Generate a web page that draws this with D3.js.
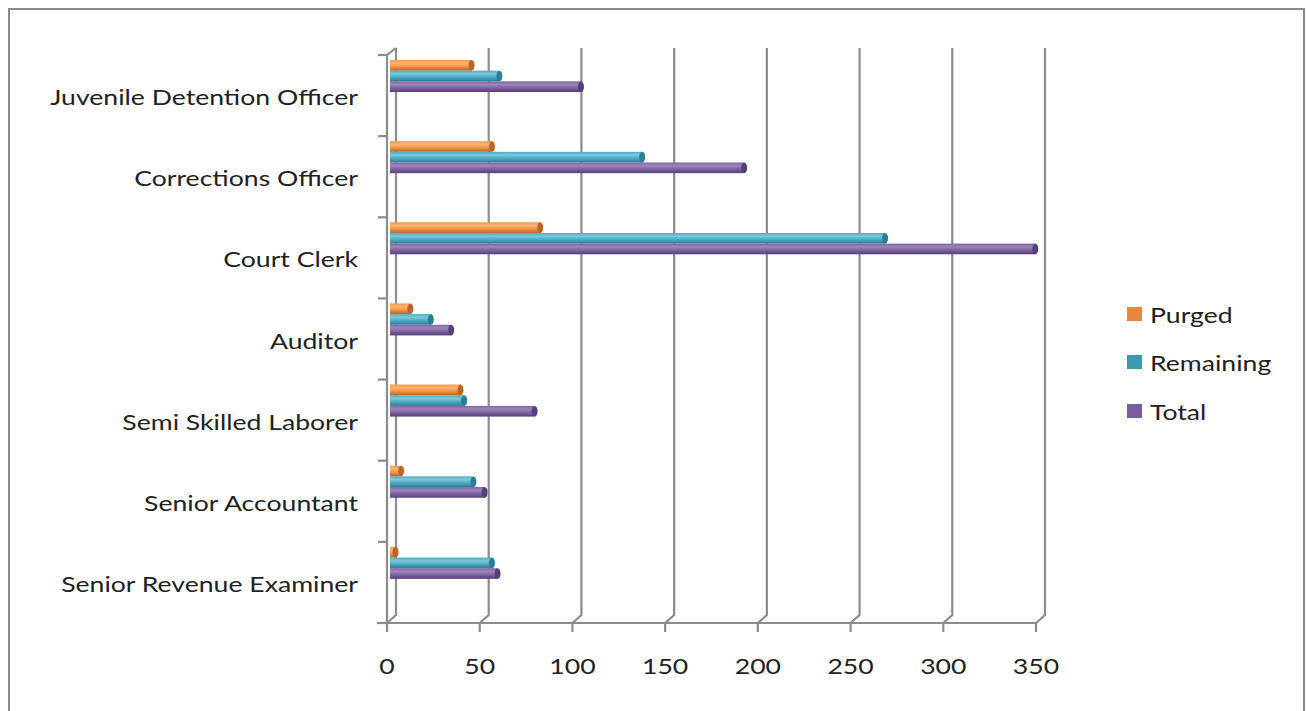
<!DOCTYPE html>
<html>
<head>
<meta charset="utf-8">
<script src="https://cdn.jsdelivr.net/npm/d3@7"></script>
<style>
  html, body { margin: 0; padding: 0; background: #fff; }
  svg { display: block; }
</style>
</head>
<body>
<div id="chart"></div>
<script>
// data (top category first)
const categories = ["Juvenile Detention Officer", "Corrections Officer", "Court Clerk", "Auditor",
    "Semi Skilled Laborer", "Senior Accountant", "Senior Revenue Examiner"];
const purged = [44, 55, 81, 11, 38, 6, 3];
const remaining = [59, 136, 267, 22, 40, 45, 55];
const total = [103, 191, 348, 33, 78, 51, 58];
const seriesNames = ["Purged", "Remaining", "Total"];
const xTicks = [0, 50, 100, 150, 200, 250, 300, 350];

const width = 1307, height = 711;
const font = "Lato, 'Open Sans', sans-serif";
const fontSize = 22, stretch = 1.21;   // the original type is wide, stretch it a bit
const gridColor = "#8c8c8c";
const depth = {x: 9, y: -8};   // back wall offset

const colors = {
    Purged:    {base: "#F79646", light: "#FBB47A", dark: "#B8662A", legend: "#E8883A"},
    Remaining: {base: "#4BACC6", light: "#7FC7DA", dark: "#2B7E94", legend: "#3E9AB2"},
    Total:     {base: "#8064A2", light: "#9D86BA", dark: "#55407A", legend: "#7B5EA0"}
};

const svg = d3.select("#chart").append("svg")
    .attr("width", width)
    .attr("height", height);

// gradients for the cylinder look
const defs = svg.append("defs");
seriesNames.forEach(s => {
    const g = defs.append("linearGradient")
        .attr("id", "grad-" + s)
        .attr("x1", 0).attr("y1", 0).attr("x2", 0).attr("y2", 1);
    g.append("stop").attr("offset", "0%").attr("stop-color", colors[s].base);
    g.append("stop").attr("offset", "30%").attr("stop-color", colors[s].light);
    g.append("stop").attr("offset", "60%").attr("stop-color", colors[s].base);
    g.append("stop").attr("offset", "100%").attr("stop-color", colors[s].dark);
});

// outer frame
svg.append("rect")
    .attr("x", 9).attr("y", 9)
    .attr("width", 1295).attr("height", 720)
    .attr("fill", "none")
    .attr("stroke", "#8a8a8a")
    .attr("stroke-width", 2);

// text helper: places a label at (x, y), stretched horizontally
function label(sel, x, y, anchor, txt) {
    sel.append("g")
        .attr("transform", `translate(${x}, ${y}) scale(${stretch}, 1)`)
        .append("text")
        .attr("text-anchor", anchor)
        .attr("dominant-baseline", "central")
        .attr("font-family", font)
        .attr("font-size", fontSize)
        .attr("fill", "#222")
        .text(txt);
}

/** scales */
const xScale = d3.scaleLinear()
    .domain([0, 350])
    .range([387, 1036]);

const yScale = d3.scaleBand()
    .domain(categories)
    .range([55, 623]);

const yInner = d3.scaleBand()
    .domain(seriesNames)
    .range([5, 37]);

const yTop = 48, yBottom = 623;

/** back wall gridlines */
const grid = svg.append("g").attr("class", "grid");
grid.selectAll("path")
    .data(xTicks)
    .enter().append("path")
    .attr("d", d => `M${xScale(d) + depth.x},${yTop} L${xScale(d) + depth.x},${yBottom + depth.y} L${xScale(d)},${yBottom}`)
    .attr("fill", "none")
    .attr("stroke", gridColor)
    .attr("stroke-width", 2.2);

/** axes */
const axis = svg.append("g").attr("class", "axis");
// left axis (front edge of the side wall)
axis.append("path")
    .attr("d", `M${xScale(0)},${yBottom} L${xScale(0)},${yScale.range()[0]} L${xScale(0) + depth.x},${yTop}`)
    .attr("fill", "none")
    .attr("stroke", gridColor)
    .attr("stroke-width", 2.2);
const catTicks = categories.map(c => yScale(c)).concat([yBottom]);
axis.selectAll(".ytick")
    .data(catTicks)
    .enter().append("line")
    .attr("class", "ytick")
    .attr("x1", xScale(0) - 9).attr("x2", xScale(0))
    .attr("y1", d => d).attr("y2", d => d)
    .attr("stroke", gridColor)
    .attr("stroke-width", 2.2);
// bottom axis
axis.append("line")
    .attr("x1", xScale(0) - 10).attr("x2", xScale(350))
    .attr("y1", yBottom).attr("y2", yBottom)
    .attr("stroke", gridColor)
    .attr("stroke-width", 2.2);
axis.selectAll(".xtick")
    .data(xTicks)
    .enter().append("line")
    .attr("class", "xtick")
    .attr("x1", d => xScale(d)).attr("x2", d => xScale(d))
    .attr("y1", yBottom).attr("y2", yBottom + 9)
    .attr("stroke", gridColor)
    .attr("stroke-width", 2.2);
xTicks.forEach(t => label(axis, xScale(t), 665, "middle", t));
categories.forEach(c => label(axis, 358, yScale(c) + yScale.bandwidth() / 2 + 1, "end", c));

/** bars */
const rows = categories.map((c, i) => ({
    category: c,
    values: [
        {series: "Purged", value: purged[i]},
        {series: "Remaining", value: remaining[i]},
        {series: "Total", value: total[i]}
    ]
}));
const barDx = 3, capRx = 3;
const content = svg.append("g").attr("class", "content");
const groups = content.selectAll(".barGroup")
    .data(rows)
    .enter().append("g")
    .attr("class", "barGroup")
    .attr("transform", d => `translate(${barDx}, ${yScale(d.category)})`);

const bh = yInner.bandwidth();
groups.selectAll(".bar")
    .data(d => d.values)
    .enter().append("rect")
    .attr("class", "bar")
    .attr("x", xScale(0))
    .attr("y", d => yInner(d.series))
    .attr("width", d => Math.max(0, xScale(d.value) - xScale(0)))
    .attr("height", bh)
    .attr("fill", d => `url(#grad-${d.series})`);
groups.selectAll(".cap")
    .data(d => d.values)
    .enter().append("ellipse")
    .attr("class", "cap")
    .attr("cx", d => xScale(d.value))
    .attr("cy", d => yInner(d.series) + bh / 2)
    .attr("rx", capRx)
    .attr("ry", bh / 2)
    .attr("fill", d => colors[d.series].dark);

/** legend */
const legend = svg.append("g").attr("class", "legend");
const legendY = [314, 362, 411];
seriesNames.forEach((s, i) => {
    legend.append("rect")
        .attr("x", 1127).attr("y", legendY[i] - 7)
        .attr("width", 15).attr("height", 14)
        .attr("fill", colors[s].legend);
    label(legend, 1150, legendY[i], "start", s);
});
</script>
</body>
</html>
